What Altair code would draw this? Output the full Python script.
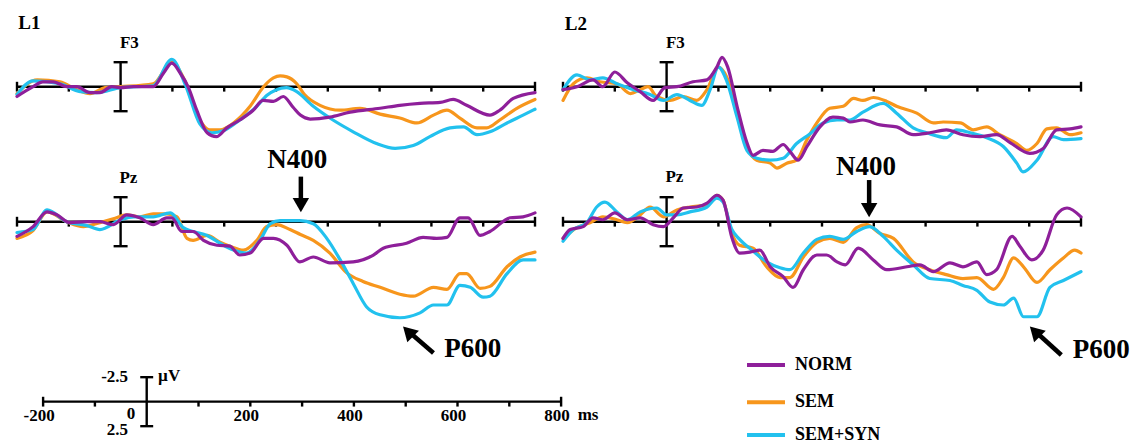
import altair as alt
import pandas as pd

# ---------------- data (time in ms, amplitude in µV; negative plotted up) ----------------
CONDITIONS = ["NORM", "SEM", "SEM+SYN"]
COLORS = ["#8E1F9A", "#F7961C", "#22C1EE"]
DRAW_ORDER = ["SEM", "SEM+SYN", "NORM"]

L1_F3_NORM = [(-200, 1.0), (-169, 0), (-150, -0.5), (-130, -0.5), (-104, 0), (-85, 0), (-59, 0.6), (-40, 0.6),
              (-17, 0), (0, 0.1), (25, 0), (63, 0), (83, -1.4), (99, -2.4), (115, -1.4), (131, 0.1), (147, 2.4),
              (167, 4.7), (185, 5.1), (205, 4.2), (230, 3.4), (256, 2.4), (275, 1.4), (295, 1.5), (314, 1.0),
              (333, 2.1), (347, 2.9), (366, 3.3), (404, 3.1), (443, 2.6), (501, 2.2), (539, 1.9), (578, 1.7),
              (617, 1.6), (642, 1.3), (668, 1.9), (713, 2.9), (732, 2.4), (758, 1.2), (800, 0.6)]
L1_F3_SEM = [(-200, 0.7), (-161, -0.7), (-117, -0.5), (-85, 0.3), (-59, 0.7), (-30, 0.1), (0, 0), (63, -0.3),
             (99, -2.5), (125, -0.5), (153, 3.4), (172, 4.4), (192, 4.4), (218, 3.7), (250, 2.0), (276, 0),
             (295, -0.9), (308, -1.1), (321, -1.0), (340, -0.3), (355, 0.8), (385, 1.9), (424, 2.4), (462, 2.2),
             (501, 2.8), (539, 3.2), (572, 3.7), (604, 2.9), (630, 2.4), (655, 3.2), (688, 4.2), (707, 4.2),
             (732, 3.4), (765, 2.2), (800, 1.3)]
L1_F3_SS = [(-200, 0.8), (-169, -0.6), (-117, -0.3), (-78, 0.5), (-46, 0.6), (0, 0.1), (63, -0.1), (99, -2.8),
            (125, -0.2), (153, 3.8), (176, 4.7), (198, 4.5), (230, 3.4), (263, 2.0), (282, 0.9), (301, 0.3),
            (320, 0.1), (340, 0.5), (372, 2.0), (410, 3.4), (449, 4.6), (494, 5.8), (530, 6.3), (565, 6.0),
            (597, 5.1), (636, 4.2), (662, 4.1), (688, 4.9), (713, 4.6), (746, 3.7), (777, 2.9), (800, 2.3)]

L1_PZ_NORM = [(-200, 1.5), (-169, 0.5), (-142, -1.0), (-123, -0.7), (-98, 0.1), (-65, 0), (-40, 0), (-14, 0.3),
              (12, -0.7), (37, -0.4), (63, 0.3), (89, -0.4), (99, -0.4), (118, 1.0), (140, 1.0), (160, 1.9),
              (186, 2.4), (211, 2.5), (230, 3.4), (250, 3.2), (276, 1.7), (295, 1.7), (321, 2.4), (346, 4.1),
              (372, 3.6), (404, 4.2), (449, 4.1), (488, 3.4), (507, 2.7), (552, 2.2), (584, 1.6), (610, 1.7),
              (630, 1.6), (655, -0.4), (671, -0.4), (694, 1.4), (713, 1.0), (752, -0.4), (777, -0.5), (800, -0.9)]
L1_PZ_SEM = [(-200, 1.7), (-169, 0.9), (-142, -1.0), (-104, 0), (-72, 0.5), (-40, 0.1), (-14, -0.3), (12, -0.7),
             (37, -0.5), (63, -0.8), (89, -0.8), (109, -0.5), (128, 1.7), (140, 1.9), (167, 1.4), (192, 2.1),
             (211, 2.5), (237, 2.9), (263, 1.9), (282, 0.5), (301, 0.3), (327, 0.8), (347, 1.3), (372, 1.9),
             (404, 3.2), (436, 5.2), (468, 6.1), (501, 6.7), (539, 7.4), (565, 7.6), (604, 6.7), (630, 6.9),
             (655, 5.3), (668, 5.3), (694, 6.8), (713, 6.6), (746, 4.6), (771, 3.6), (800, 3.1)]
L1_PZ_SS = [(-200, 1.1), (-169, 0.8), (-142, -1.2), (-104, 0), (-65, 0.4), (-40, 0.8), (0, -0.2), (25, -0.5),
            (63, -0.5), (96, -0.9), (121, 0.6), (140, 1.0), (167, 1.4), (192, 2.2), (218, 2.9), (243, 3.2),
            (269, 1.9), (289, 0.2), (308, -0.1), (346, -0.1), (372, 0.2), (398, 1.7), (424, 3.9), (449, 6.3),
            (475, 8.7), (501, 9.5), (539, 9.8), (578, 9.3), (604, 8.5), (630, 8.5), (655, 6.5), (675, 6.7),
            (700, 7.7), (713, 7.6), (746, 5.3), (777, 3.9), (800, 3.9)]

L2_F3_NORM = [(-200, 0.3), (-173, 0), (-142, -0.7), (-123, 0), (-100, -1.5), (-76, -0.4), (-51, 0.5), (-26, 1.4),
              (-3, 0.1), (20, 0), (51, -0.5), (78, -0.7), (97, -2.0), (107, -3.0), (118, -2.0), (136, 2.0),
              (155, 5.7), (167, 7.0), (186, 6.5), (205, 6.6), (225, 5.9), (238, 6.6), (254, 7.5), (271, 6.1),
              (296, 4.1), (321, 3.1), (341, 3.2), (354, 3.6), (379, 3.4), (412, 3.9), (444, 4.1), (476, 4.9),
              (508, 4.7), (540, 4.4), (572, 4.9), (605, 5.1), (637, 4.9), (663, 5.7), (701, 6.8), (727, 6.3),
              (753, 4.4), (779, 4.3), (800, 4.1)]
L2_F3_SEM = [(-200, 1.4), (-180, -0.3), (-154, -0.9), (-129, -0.5), (-96, -0.3), (-70, 0.7), (-51, 0.3), (-36, 0),
             (-19, 1.0), (7, 1.4), (32, 1.0), (58, 1.4), (78, 0.3), (100, -2.0), (116, -1.0), (136, 2.4),
             (155, 6.1), (174, 7.5), (200, 7.8), (213, 8.3), (232, 7.8), (251, 7.5), (271, 5.4), (290, 3.7),
             (315, 2.2), (341, 2.0), (361, 1.2), (379, 1.4), (399, 1.1), (425, 1.5), (444, 2.0), (483, 2.7),
             (515, 3.7), (534, 3.6), (567, 3.7), (592, 4.4), (618, 4.1), (643, 4.9), (676, 5.8), (695, 6.5),
             (715, 5.8), (734, 4.3), (753, 4.2), (779, 4.9), (800, 4.7)]
L2_F3_SS = [(-200, 0.3), (-173, -1.2), (-148, -0.7), (-123, -0.9), (-96, -0.3), (-64, 0.3), (-32, 0.8), (-6, 1.4),
            (20, 0.8), (45, 1.4), (68, 1.9), (84, 0.3), (100, -2.0), (116, -0.6), (136, 3.1), (155, 6.5),
            (174, 7.3), (200, 7.5), (225, 7.3), (251, 5.8), (277, 4.8), (302, 3.7), (329, 3.4), (354, 3.4),
            (379, 2.6), (418, 1.7), (444, 2.7), (476, 4.2), (502, 4.7), (540, 5.2), (560, 4.4), (586, 4.7),
            (618, 5.2), (650, 6.1), (676, 7.8), (688, 8.7), (715, 7.5), (746, 5.1), (766, 5.4), (800, 5.3)]

L2_PZ_NORM = [(-200, 1.7), (-186, 0.8), (-161, 0.5), (-142, -0.4), (-123, -0.2), (-100, -0.9), (-76, -0.2),
              (-51, -0.4), (-26, 0.3), (-6, 0.5), (13, -0.4), (32, -1.4), (58, -1.5), (78, -1.9), (97, -2.7),
              (109, -2.2), (126, 1.6), (141, 3.2), (161, 3.1), (180, 2.9), (200, 4.6), (225, 5.6), (244, 6.7),
              (264, 4.9), (290, 3.4), (309, 3.4), (329, 4.1), (345, 4.4), (370, 2.7), (399, 3.9), (425, 4.9),
              (464, 4.6), (489, 4.4), (515, 5.1), (547, 4.2), (572, 4.6), (599, 4.1), (618, 5.4), (637, 4.9),
              (667, 1.5), (682, 2.5), (705, 3.9), (727, 2.9), (753, -0.7), (773, -1.4), (800, -0.5)]
L2_PZ_SEM = [(-200, 1.7), (-173, 0.6), (-148, 0.1), (-123, -0.5), (-96, -0.2), (-76, 0.1), (-51, -0.7),
             (-32, -1.5), (-6, -0.5), (20, -1.2), (45, -1.5), (78, -1.7), (97, -2.7), (109, -2.2), (126, 1.2),
             (141, 2.4), (167, 2.7), (193, 4.6), (219, 5.7), (238, 5.7), (264, 3.6), (290, 2.1), (315, 1.7),
             (341, 2.1), (367, 0.6), (386, 0.3), (412, 1.2), (438, 1.7), (476, 4.1), (508, 4.9), (540, 5.4),
             (572, 5.8), (599, 5.7), (631, 6.9), (650, 5.7), (670, 3.7), (689, 4.6), (715, 6.2), (740, 4.9),
             (766, 3.7), (788, 2.9), (800, 3.2)]
L2_PZ_SS = [(-200, 2.0), (-180, 0.8), (-154, 0.1), (-135, -1.5), (-119, -2.0), (-96, -1.0), (-76, -0.2),
            (-51, -1.0), (-19, -1.4), (0, -0.7), (20, -0.7), (45, -1.0), (78, -1.5), (97, -2.4), (109, -2.0),
            (126, 0.8), (141, 1.8), (167, 3.0), (193, 4.1), (219, 4.7), (238, 4.9), (264, 3.2), (290, 1.8),
            (315, 1.5), (341, 1.8), (367, 1.0), (392, 0.5), (418, 1.5), (444, 2.9), (476, 4.4), (508, 5.8),
            (547, 6.0), (572, 6.5), (599, 7.0), (624, 8.2), (650, 8.5), (670, 7.8), (689, 9.7), (715, 9.7),
            (740, 6.7), (766, 6.0), (800, 5.1)]

PANEL_TICKS_MS = [-200, -100, 100, 200, 300, 400, 500, 600, 700, 800]
SCALE_LABELS_MS = [-200, 200, 400, 600, 800]
SCALE_BAR_UV = 2.5

CURVES = {
    ("L1", "F3", "NORM"): L1_F3_NORM, ("L1", "F3", "SEM"): L1_F3_SEM, ("L1", "F3", "SEM+SYN"): L1_F3_SS,
    ("L1", "Pz", "NORM"): L1_PZ_NORM, ("L1", "Pz", "SEM"): L1_PZ_SEM, ("L1", "Pz", "SEM+SYN"): L1_PZ_SS,
    ("L2", "F3", "NORM"): L2_F3_NORM, ("L2", "F3", "SEM"): L2_F3_SEM, ("L2", "F3", "SEM+SYN"): L2_F3_SS,
    ("L2", "Pz", "NORM"): L2_PZ_NORM, ("L2", "Pz", "SEM"): L2_PZ_SEM, ("L2", "Pz", "SEM+SYN"): L2_PZ_SS,
}

# ---------------- layout (one shared ms / µV coordinate frame) ----------------
W, H = 1133, 446
PX_PER_MS = 0.518
PX_PER_UV = 9.8
ZERO_X_PX = 120.6
BASE_Y_PX = 86.7
COL_OFFSET = {"L1": 0.0, "L2": 546 / PX_PER_MS}
ROW_OFFSET = {"F3": 0.0, "Pz": 135 / PX_PER_UV}
SCALE_ORIGIN = (50.4, 32.14)  # calibration scale (ms, µV) in the shared frame
X_DOMAIN = [-ZERO_X_PX / PX_PER_MS, (W - ZERO_X_PX) / PX_PER_MS]
Y_DOMAIN = [-BASE_Y_PX / PX_PER_UV, (H - BASE_Y_PX) / PX_PER_UV]
XS = alt.Scale(domain=X_DOMAIN, nice=False, zero=False)
YS = alt.Scale(domain=Y_DOMAIN, nice=False, zero=False, reverse=True)
FONT = "Liberation Serif"
TICK = 0.5
CAP = 13.5


def pos(xf="X", yf="Y"):
    return dict(x=alt.X(f"{xf}:Q", scale=XS, axis=None), y=alt.Y(f"{yf}:Q", scale=YS, axis=None))


def seg_pos():
    d = pos()
    d.update(x2=alt.X2("X2:Q"), y2=alt.Y2("Y2:Q"))
    return d


# curves
rows = []
for (col, row, cond), pts in CURVES.items():
    for t, v in pts:
        rows.append({"cond": cond, "key": f"{col}|{row}|{cond}",
                     "X": t + COL_OFFSET[col], "Y": v + ROW_OFFSET[row]})
curves = pd.DataFrame(rows)

color_scale = alt.Scale(domain=CONDITIONS, range=COLORS)
layers = []
for cond in DRAW_ORDER:
    layers.append(
        alt.Chart(curves[curves.cond == cond]).mark_line(strokeWidth=3.2, strokeJoin="round", strokeCap="round",
                                                         interpolate="monotone")
        .encode(**pos(), detail="key:N", color=alt.Color("cond:N", scale=color_scale, legend=None))
    )


# axes / scale bars
def axis_segments(ox, oy, ticks, cap):
    segs = [(-200 + ox, 800 + ox, oy, oy)]
    for t in ticks:
        if t in (-200, 800):
            segs.append((t + ox, t + ox, oy - TICK, oy + TICK))
        else:
            segs.append((t + ox, t + ox, oy, oy + TICK))
    segs.append((ox, ox, oy - SCALE_BAR_UV, oy + SCALE_BAR_UV))
    segs.append((ox - cap, ox + cap, oy - SCALE_BAR_UV, oy - SCALE_BAR_UV))
    segs.append((ox - cap, ox + cap, oy + SCALE_BAR_UV, oy + SCALE_BAR_UV))
    return segs


segs = []
for col in ("L1", "L2"):
    for row in ("F3", "Pz"):
        segs += axis_segments(COL_OFFSET[col], ROW_OFFSET[row], PANEL_TICKS_MS, CAP)
segs += axis_segments(SCALE_ORIGIN[0], SCALE_ORIGIN[1], PANEL_TICKS_MS, 12.5)
seg_df = pd.DataFrame(segs, columns=["X", "X2", "Y", "Y2"])
layers.insert(0, alt.Chart(seg_df).mark_rule(color="black", strokeWidth=2.4).encode(**seg_pos()))


def text_layer(items, size, align="center", dx=0):
    df = pd.DataFrame(items, columns=["X", "Y", "text"])
    return alt.Chart(df).mark_text(font=FONT, fontWeight="bold", fontSize=size, align=align,
                                   baseline="middle", dx=dx, color="black").encode(**pos(), text="text:N")


L2X = COL_OFFSET["L2"]
PZY = ROW_OFFSET["Pz"]
# group labels and electrode names
layers.append(text_layer([(-176, -6.45, "L1"), (-175 + L2X, -6.35, "L2")], 19))
layers.append(text_layer([(17, -4.42, "F3"), (17 + L2X, -4.42, "F3"),
                          (15, PZY - 4.5, "Pz"), (15 + L2X, PZY - 4.55, "Pz")], 17))
# N400 / P600 labels
layers.append(text_layer([(341, PZY - 6.3, "N400"), (385 + L2X, PZY - 5.6, "N400"),
                          (680, PZY + 13.0, "P600"), (839 + L2X, PZY + 13.1, "P600")], 27))

# arrows
shafts = pd.DataFrame([
    (348, 348, PZY - 4.6, PZY - 1.9),
    (391 + L2X, 391 + L2X, PZY - 4.25, PZY - 1.4),
    (556, 604, PZY + 11.2, PZY + 13.4),
    (712 + L2X, 762 + L2X, PZY + 11.2, PZY + 13.6),
], columns=["X", "X2", "Y", "Y2"])
layers.append(alt.Chart(shafts).mark_rule(color="black", strokeWidth=4.5).encode(**seg_pos()))
down_heads = pd.DataFrame([(348, PZY - 1.70), (391 + L2X, PZY - 1.19)], columns=["X", "Y"])
layers.append(alt.Chart(down_heads).mark_point(shape="triangle-down", filled=True, size=270, color="black",
                                               opacity=1).encode(**pos()))
diag_heads = pd.DataFrame([(555, PZY + 11.2), (711 + L2X, PZY + 11.2)], columns=["X", "Y"])
layers.append(alt.Chart(diag_heads).mark_point(shape="triangle-up", angle=315, filled=True, size=270,
                                               color="black", opacity=1).encode(**pos()))

# calibration scale labels
sx, sy = SCALE_ORIGIN
layers.append(text_layer([(t + sx, sy + 1.46, str(t)) for t in SCALE_LABELS_MS] + [(sx - 22.6, sy + 1.26, "0")],
                         17, dx=-4))
layers.append(text_layer([(sx - 36, sy - 2.52, "-2.5"), (sx - 36, sy + 2.89, "2.5")], 17, align="right"))
layers.append(text_layer([(sx + 22, sy - 2.62, "µV"), (sx + 832, sy + 1.36, "ms")], 17, align="left"))

# legend
LEG_X = (1209.3, 1282.6, 1302.0)
LEG_Y = [28.4, 32.2, 35.55]
leg = pd.DataFrame({"cond": CONDITIONS, "X": LEG_X[0], "X2": LEG_X[1], "Y": LEG_Y, "Y2": LEG_Y})
layers.append(alt.Chart(leg).mark_rule(strokeWidth=4).encode(
    **seg_pos(), color=alt.Color("cond:N", scale=color_scale, legend=None)))
layers.append(text_layer([(LEG_X[2], y, c) for c, y in zip(CONDITIONS, LEG_Y)], 18, align="left"))

chart = alt.layer(*layers).properties(
    width=W, height=H, autosize="none", padding=0, background="white"
).configure_view(stroke=None)

chart.save("out.html", embed_options={"renderer": "svg", "actions": False})
